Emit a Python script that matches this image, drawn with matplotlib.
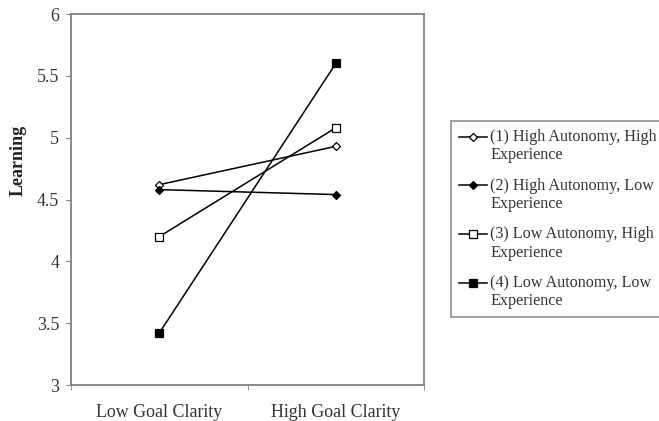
import matplotlib.pyplot as plt
from matplotlib.lines import Line2D
from matplotlib.legend_handler import HandlerLine2D

plt.rcParams['font.family'] = ['Liberation Serif', 'DejaVu Serif']

categories = ["Low Goal Clarity", "High Goal Clarity"]
labels = [
    "(1) High Autonomy, High\nExperience",
    "(2) High Autonomy, Low\nExperience",
    "(3) Low Autonomy, High\nExperience",
    "(4) Low Autonomy, Low\nExperience",
]
s1 = [4.62, 4.93]
s2 = [4.58, 4.54]
s3 = [4.20, 5.08]
s4 = [3.42, 5.60]

series = [s1, s2, s3, s4]
styles = [
    dict(marker="D", markersize=4, markerfacecolor="white"),
    dict(marker="D", markersize=4, markerfacecolor="black"),
    dict(marker="s", markersize=6, markerfacecolor="white"),
    dict(marker="s", markersize=6, markerfacecolor="black"),
]


# Excel-style legend: put the handle level with the first text line
class FirstLineHandler(HandlerLine2D):
    def create_artists(self, legend, orig_handle, xdescent, ydescent,
                       width, height, fontsize, trans):
        return super().create_artists(legend, orig_handle, xdescent,
                                      ydescent - 14, width, height,
                                      fontsize, trans)


fig = plt.figure(figsize=(6.59, 4.21), dpi=100)
ax = fig.add_axes([0.1077, 0.0855, 0.5358, 0.8812])

x = range(len(categories))
for vals, lab, st in zip(series, labels, styles):
    ax.plot(x, vals, color="black", linewidth=1.1, markeredgecolor="black",
            markeredgewidth=0.9, label=lab, **st)

ax.set_xlim(-0.5, 1.5)
ax.set_ylim(3, 6)
ax.set_yticks([3, 3.5, 4, 4.5, 5, 5.5, 6])
ax.set_yticklabels(["3", "3.5", "4", "4.5", "5", "5.5", "6"])
ax.set_xticks([0, 1])
ax.set_xticklabels(categories)
ax.set_xticks([-0.5, 0.5, 1.5], minor=True)
ax.tick_params(axis="x", which="major", length=0, pad=14, labelsize=12.9,
               labelcolor="#333333")
ax.tick_params(axis="x", which="minor", length=3.5, color="#808080")
ax.tick_params(axis="y", length=3.5, color="#808080", labelsize=12.9,
               pad=5, labelcolor="#333333")

for sp in ax.spines.values():
    sp.set_color("#808080")
    sp.set_linewidth(1.3)

ax.set_ylabel("Learning", fontweight="bold", fontsize=13, color="#222222")
ax.yaxis.set_label_coords(-0.125, 0.604)

leg = fig.legend(loc="upper left", bbox_to_anchor=(0.6844, 0.7126),
                 bbox_transform=fig.transFigure, borderaxespad=0,
                 fontsize=11.6, handlelength=1.74, handletextpad=0.2,
                 labelspacing=0.88, fancybox=False, frameon=True,
                 borderpad=0.5, handler_map={Line2D: FirstLineHandler()})
leg.get_frame().set_edgecolor("#808080")
leg.get_frame().set_linewidth(1.3)
for t in leg.get_texts():
    t.set_color("#333333")

fig.savefig("out.png", dpi=100)
